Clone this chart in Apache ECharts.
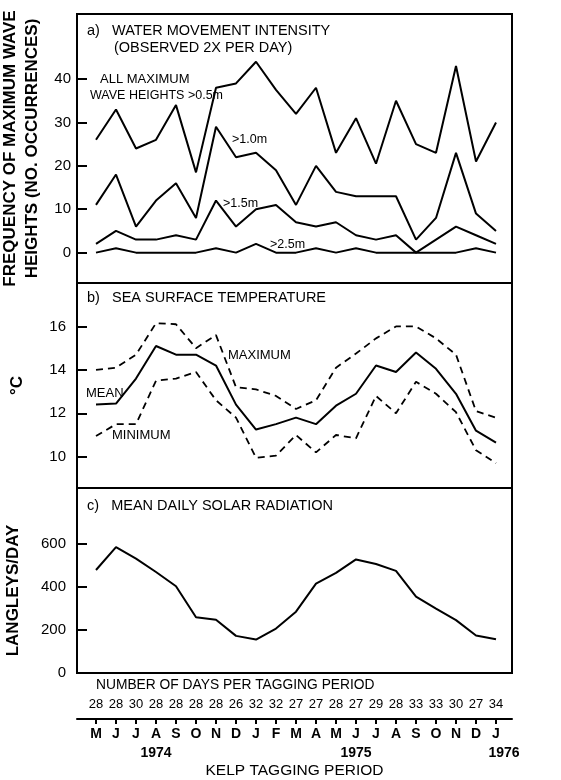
<!DOCTYPE html>
<html>
<head>
<meta charset="utf-8">
<script src="https://cdn.jsdelivr.net/npm/echarts@6/dist/echarts.min.js"></script>
<style>
  html, body { margin: 0; background: #fff; }
  #chart { width: 561px; height: 780px; }
</style>
</head>
<body>
<div id="chart"></div>
<script>
// tagging periods, May 1974 .. Jan 1976 (x = 0..20)
const months = ['M','J','J','A','S','O','N','D','J','F','M','A','M','J','J','A','S','O','N','D','J'];
const years = ['','','','1974','','','','','','','','','','1975','','','','','','','1976'];
const daysPerPeriod = [28,28,30,28,28,28,28,26,32,32,27,27,28,27,29,28,33,33,30,27,34];

// a) water movement intensity - no. of occurrences
const wave05 = [26,33,24,26,34,18.5,38,39,44,37.5,32,38,23,31,20.5,35,25,23,43,21,30];
const wave10 = [11,18,6,12,16,8,29,22,23,19,11,20,14,13,13,13,3,8,23,9,5];
const wave15 = [2,5,3,3,4,3,12,6,10,11,7,6,7,4,3,4,0,3,6,4,2];
const wave25 = [0,1,0,0,0,0,1,0,2,0,0,1,0,1,0,0,0,0,0,1,0];

// b) sea surface temperature, deg C
const tempMax  = [14.0,14.1,14.7,16.15,16.1,15.0,15.6,13.2,13.1,12.8,12.2,12.6,14.1,14.75,15.45,16.0,16.0,15.45,14.7,12.1,11.8];
const tempMean = [12.4,12.45,13.6,15.1,14.7,14.7,14.2,12.4,11.25,11.5,11.8,11.5,12.35,12.9,14.2,13.9,14.8,14.05,12.9,11.2,10.65];
const tempMin  = [10.95,11.5,11.5,13.5,13.6,13.9,12.6,11.8,9.95,10.05,11.0,10.2,11.0,10.85,12.8,12.0,13.45,12.9,12.05,10.3,9.7];

// c) mean daily solar radiation, langleys/day
const solar = [477,583,530,468,402,258,247,172,155,206,284,414,464,526,505,473,354,298,245,174,156];

const ticksA = [0,10,20,30,40];
const ticksB = [10,12,14,16];
const ticksC = [0,200,400,600];
const xIdx = months.map((m, i) => i);
const yearIdx = xIdx.filter(i => years[i]);

const X_MIN = -0.95, X_MAX = 20.8;
const TICK_LEN = 0.5; // inward y tick length, in x units
const FONT = 'Liberation Sans';
const myChart = echarts.init(document.getElementById('chart'));

const pts = arr => arr.map((v, i) => [i, v]);

// 3 stacked boxes
const grids = [
  { left: 77, right: 49, top: 14, height: 269 },
  { left: 77, right: 49, top: 283, height: 205 },
  { left: 77, right: 49, top: 488, height: 185 }
].map(g => Object.assign(g, {
  show: true, borderColor: '#000', borderWidth: 2, backgroundColor: 'transparent',
  containLabel: false, outerBoundsMode: 'none'
}));

function hiddenX(gi) {
  return { type: 'value', gridIndex: gi, min: X_MIN, max: X_MAX, show: false };
}

function yAx(gi, min, max, ticks, name, gap, margin, namePad) {
  return {
    type: 'value', gridIndex: gi, min: min, max: max,
    axisLine: { show: true, onZero: false, lineStyle: { color: '#000', width: 2 } },
    splitLine: { show: false },
    axisTick: { show: true, inside: true, length: 10, customValues: ticks, lineStyle: { color: '#000', width: 2 } },
    axisLabel: { customValues: ticks, margin: margin, color: '#000', fontFamily: FONT, fontSize: 15 },
    name: name, nameLocation: 'middle', nameRotate: 90, nameGap: gap,
    nameTextStyle: { color: '#000', fontSize: 17, fontWeight: 'bold', lineHeight: 22, padding: namePad || 0 }
  };
}

// extra x axes under panel c: days row, months, years
function bottomX(offset, extra) {
  return Object.assign({
    type: 'value', gridIndex: 2, min: X_MIN, max: X_MAX, position: 'bottom', offset: offset,
    splitLine: { show: false },
    axisLine: { show: false, onZero: false },
    axisTick: { show: false }
  }, extra);
}

function line(gi, data, dashed, ticks) {
  const s = {
    type: 'line', xAxisIndex: gi, yAxisIndex: gi, data: pts(data),
    symbol: 'none', silent: true,
    lineStyle: { color: '#000', width: dashed ? 1.8 : 2, type: dashed ? [7, 5] : 'solid' }
  };
  if (ticks) {
    // inward tick marks on the left edge of the box
    s.markLine = {
      silent: true, symbol: 'none', label: { show: false },
      lineStyle: { color: '#000', width: 2, type: 'solid' },
      data: ticks.map(t => [{ coord: [X_MIN, t] }, { coord: [X_MIN + TICK_LEN, t] }])
    };
  }
  return s;
}

function txt(x, y, text, size, extra) {
  return {
    type: 'text', x: x, y: y, silent: true,
    style: Object.assign({ text: text, fill: '#000', font: (size || 12) + 'px "' + FONT + '"', verticalAlign: 'middle' }, extra || {})
  };
}

const option = {
  animation: false,
  grid: grids,
  xAxis: [
    hiddenX(0),
    hiddenX(1),
    // months
    bottomX(46, {
      axisLine: { show: true, onZero: false, lineStyle: { color: '#000', width: 2 } },
      axisTick: { show: true, length: 5, customValues: xIdx, lineStyle: { color: '#000', width: 2 } },
      axisLabel: { customValues: xIdx, margin: 8, color: '#000', fontFamily: FONT, fontSize: 14, fontWeight: 'bold',
        hideOverlap: false, showMinLabel: true, showMaxLabel: true, formatter: v => months[v] },
      name: 'KELP TAGGING PERIOD', nameLocation: 'middle', nameGap: 44,
      nameTextStyle: { color: '#000', fontFamily: FONT, fontSize: 15.5 }
    }),
    // number of days per tagging period
    bottomX(25, {
      axisLabel: { customValues: xIdx, margin: 0, color: '#000', fontFamily: FONT, fontSize: 13,
        hideOverlap: false, showMinLabel: true, showMaxLabel: true, formatter: v => String(daysPerPeriod[v]) }
    }),
    // years
    bottomX(46, {
      axisLabel: { customValues: yearIdx, margin: 27, color: '#000', hideOverlap: false,
        showMinLabel: true, showMaxLabel: true,
        formatter: v => '{' + (v === 20 ? 'y2' : 'y') + '|' + years[v] + '}',
        rich: {
          y: { fontFamily: FONT, fontSize: 14, fontWeight: 'bold' },
          y2: { fontFamily: FONT, fontSize: 14, fontWeight: 'bold', padding: [0, 0, 0, 16] }
        }
      }
    })
  ],
  yAxis: [
    yAx(0, -7, 55, ticksA, 'FREQUENCY OF MAXIMUM WAVE\nHEIGHTS (NO. OCCURRENCES)', 30, 6),
    yAx(1, 8.56, 18, ticksB, '°C', 49, 11),
    yAx(2, 0, 857, ticksC, 'LANGLEYS/DAY', 53, 11, [0, 20, 0, 0])
  ],
  series: [
    line(0, wave05, false, ticksA), line(0, wave10), line(0, wave15), line(0, wave25),
    line(1, tempMax, true, ticksB), line(1, tempMean), line(1, tempMin, true),
    line(2, solar, false, ticksC)
  ],
  graphic: [
    txt(87, 31, 'a)   WATER MOVEMENT INTENSITY', 14.5),
    txt(114, 48, '(OBSERVED 2X PER DAY)', 14.5),
    txt(100, 79, 'ALL MAXIMUM', 13),
    txt(90, 96, 'WAVE HEIGHTS >0.5m', 12.5),
    txt(232, 140, '>1.0m', 12.5),
    txt(223, 204, '>1.5m', 12.5),
    txt(270, 245, '>2.5m', 12.5),
    txt(87, 298, 'b)   SEA SURFACE TEMPERATURE', 14.5),
    txt(228, 355, 'MAXIMUM', 13),
    txt(86, 393, 'MEAN', 13),
    txt(112, 435, 'MINIMUM', 13),
    txt(87, 506, 'c)   MEAN DAILY SOLAR RADIATION', 14.5),
    txt(96, 685, 'NUMBER OF DAYS PER TAGGING PERIOD', 13.8)
  ]
};

myChart.setOption(option);
</script>
</body>
</html>
